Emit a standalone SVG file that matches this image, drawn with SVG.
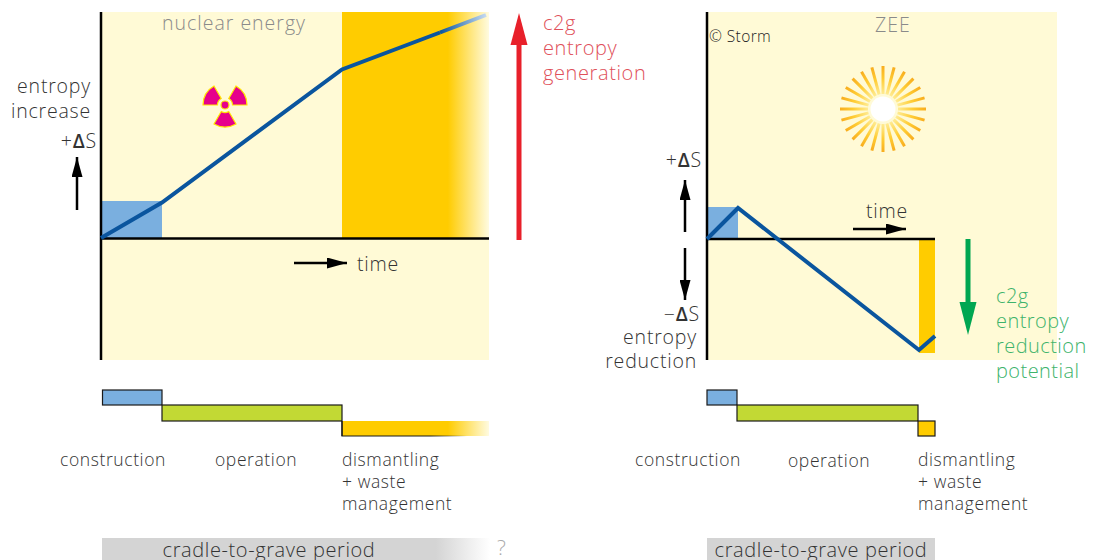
<svg xmlns="http://www.w3.org/2000/svg" width="1093" height="560" viewBox="0 0 1093 560">
<style>
text{font-family:"Open Sans",Lato,"Liberation Sans",sans-serif;font-weight:300;fill:#333}
.lbl{font-size:17.5px;letter-spacing:0.6px}
.ax{font-size:19.5px;letter-spacing:0.8px}
.ttl{font-size:19.5px;letter-spacing:1px;fill:#8a8a8a}
.red{font-size:20px;letter-spacing:0.6px;fill:#e0505a}
.grn{font-size:20px;letter-spacing:0.45px;fill:#3db36b}
.c2g{font-size:20px;letter-spacing:0.6px}
.d{font-weight:600}
.axis{stroke:#000;stroke-width:2.5;fill:none}
.curve{stroke:#0a559e;stroke-width:4;fill:none;stroke-linejoin:miter}
.bar{stroke:#1a1a1a;stroke-width:1.2}
.arr{stroke:#000;stroke-width:2.5;fill:none}
</style>
<defs>
<linearGradient id="orFade" gradientUnits="userSpaceOnUse" x1="342" y1="0" x2="489" y2="0">
<stop offset="0" stop-color="#ffcc00"/><stop offset="0.72" stop-color="#ffcc00"/><stop offset="1" stop-color="#fffbe0"/>
</linearGradient>
<linearGradient id="grayFade" gradientUnits="userSpaceOnUse" x1="102" y1="0" x2="490" y2="0">
<stop offset="0" stop-color="#d4d4d4"/><stop offset="0.86" stop-color="#d4d4d4"/><stop offset="1" stop-color="#ffffff"/>
</linearGradient>
<linearGradient id="lineFade" gradientUnits="userSpaceOnUse" x1="440" y1="0" x2="487" y2="0">
<stop offset="0" stop-color="#0a559e"/><stop offset="1" stop-color="#c8dcf2"/>
</linearGradient>
<linearGradient id="strokeFade" gradientUnits="userSpaceOnUse" x1="342" y1="0" x2="489" y2="0">
<stop offset="0" stop-color="#1a1a1a"/><stop offset="0.6" stop-color="#1a1a1a"/><stop offset="0.85" stop-color="#1a1a1a" stop-opacity="0"/>
</linearGradient>
<radialGradient id="sunRay" gradientUnits="userSpaceOnUse" cx="883" cy="109" r="43">
<stop offset="0.3" stop-color="#fff0a0"/><stop offset="0.7" stop-color="#ffcc33"/><stop offset="1" stop-color="#f8ad1e"/>
</radialGradient>
<marker id="ah" viewBox="0 0 20 11" refX="20" refY="5.5" markerWidth="8" markerHeight="4.4" orient="auto" markerUnits="strokeWidth">
<path d="M0,0 L20,5.5 L0,11 Z" fill="#000"/>
</marker>
</defs>

<!-- LEFT CHART: nuclear energy -->
<g id="left-chart">
<rect x="101" y="12" width="388" height="348" fill="#fffad6"/>
<rect x="342" y="12" width="147" height="226" fill="url(#orFade)"/>
<rect x="101" y="201" width="61" height="37" fill="#7aafdf"/>
<text class="ttl" x="234" y="30" text-anchor="middle">nuclear energy</text>
<g id="radiation" fill="#e6008c" stroke="#ffe600" stroke-width="1.2">
<path id="blade" d="M228.75,111.5 L236,124.05 A22,22 0 0 1 214,124.05 L221.25,111.5 A7.5,7.5 0 0 0 228.75,111.5 Z"/>
<use href="#blade" transform="rotate(120 225 105)"/>
<use href="#blade" transform="rotate(240 225 105)"/>
<circle cx="225" cy="105" r="4"/>
</g>
</g>

<!-- RIGHT CHART: ZEE -->
<g id="right-chart">
<rect x="707" y="12" width="350" height="348" fill="#fffad6"/>
<rect x="919" y="239" width="16" height="114" fill="#ffcc00"/>
<rect x="707" y="207" width="31" height="32" fill="#7aafdf"/>
<text class="ttl" x="893" y="32" text-anchor="middle">ZEE</text>
<text x="709" y="42" style="font-size:15.5px;letter-spacing:0.4px;fill:#222">© Storm</text>
<g id="sun" stroke="url(#sunRay)" stroke-width="3">
<line x1="883" y1="94" x2="883" y2="66"/>
<line x1="883" y1="94" x2="883" y2="66" transform="rotate(15 883 109)"/>
<line x1="883" y1="94" x2="883" y2="66" transform="rotate(30 883 109)"/>
<line x1="883" y1="94" x2="883" y2="66" transform="rotate(45 883 109)"/>
<line x1="883" y1="94" x2="883" y2="66" transform="rotate(60 883 109)"/>
<line x1="883" y1="94" x2="883" y2="66" transform="rotate(75 883 109)"/>
<line x1="883" y1="94" x2="883" y2="66" transform="rotate(90 883 109)"/>
<line x1="883" y1="94" x2="883" y2="66" transform="rotate(105 883 109)"/>
<line x1="883" y1="94" x2="883" y2="66" transform="rotate(120 883 109)"/>
<line x1="883" y1="94" x2="883" y2="66" transform="rotate(135 883 109)"/>
<line x1="883" y1="94" x2="883" y2="66" transform="rotate(150 883 109)"/>
<line x1="883" y1="94" x2="883" y2="66" transform="rotate(165 883 109)"/>
<line x1="883" y1="94" x2="883" y2="66" transform="rotate(180 883 109)"/>
<line x1="883" y1="94" x2="883" y2="66" transform="rotate(195 883 109)"/>
<line x1="883" y1="94" x2="883" y2="66" transform="rotate(210 883 109)"/>
<line x1="883" y1="94" x2="883" y2="66" transform="rotate(225 883 109)"/>
<line x1="883" y1="94" x2="883" y2="66" transform="rotate(240 883 109)"/>
<line x1="883" y1="94" x2="883" y2="66" transform="rotate(255 883 109)"/>
<line x1="883" y1="94" x2="883" y2="66" transform="rotate(270 883 109)"/>
<line x1="883" y1="94" x2="883" y2="66" transform="rotate(285 883 109)"/>
<line x1="883" y1="94" x2="883" y2="66" transform="rotate(300 883 109)"/>
<line x1="883" y1="94" x2="883" y2="66" transform="rotate(315 883 109)"/>
<line x1="883" y1="94" x2="883" y2="66" transform="rotate(330 883 109)"/>
<line x1="883" y1="94" x2="883" y2="66" transform="rotate(345 883 109)"/>
<circle cx="883" cy="109" r="12.5" fill="#ffffff" stroke="none"/>
</g>
</g>

<!-- connectors: axes, curves, arrows -->
<g id="connectors">
<line class="axis" x1="101" y1="12" x2="101" y2="360"/>
<line class="axis" x1="101" y1="238.5" x2="489" y2="238.5"/>
<polyline class="curve" points="101,238 162,202.5 342,69.5 440,32.5"/>
<line x1="440" y1="32.5" x2="486" y2="15" stroke="url(#lineFade)" stroke-width="4"/>
<line class="arr" x1="77" y1="210" x2="77" y2="157" marker-end="url(#ah)"/>
<line class="arr" x1="294" y1="263" x2="347" y2="263" marker-end="url(#ah)"/>
<line x1="519" y1="240" x2="519" y2="40" stroke="#e8202a" stroke-width="5"/>
<path d="M510.5,45 L519,13 L527.5,45 Z" fill="#e8202a"/>

<line class="axis" x1="707" y1="12" x2="707" y2="360"/>
<line class="axis" x1="707" y1="239" x2="935" y2="239"/>
<polyline class="curve" points="707,239 738,208 919,350 935,336"/>
<line class="arr" x1="685" y1="232" x2="685" y2="180" marker-end="url(#ah)"/>
<line class="arr" x1="685" y1="248" x2="685" y2="300" marker-end="url(#ah)"/>
<line class="arr" x1="853" y1="229" x2="906" y2="229" marker-end="url(#ah)"/>
<line x1="968" y1="239" x2="968" y2="305" stroke="#00a651" stroke-width="5"/>
<path d="M959.5,302 L968,335 L976.5,302 Z" fill="#00a651"/>
</g>

<!-- axis labels -->
<g id="left-labels">
<text class="ax" x="91" y="93" text-anchor="end">entropy</text>
<text class="ax" x="91" y="118" text-anchor="end">increase</text>
<text class="ax" x="97" y="148" text-anchor="end">+<tspan class="d">Δ</tspan>S</text>
<text class="ax" x="357" y="271">time</text>
<text class="red" x="543" y="30">c2g</text>
<text class="red" x="543" y="55">entropy</text>
<text class="red" x="543" y="80">generation</text>
</g>
<g id="right-labels">
<text class="ax" x="702" y="167" text-anchor="end">+<tspan class="d">Δ</tspan>S</text>
<text class="ax" x="700" y="321" text-anchor="end">−<tspan class="d">Δ</tspan>S</text>
<text class="ax" x="697" y="344" text-anchor="end">entropy</text>
<text class="ax" x="697" y="368" text-anchor="end">reduction</text>
<text class="ax" x="866" y="218">time</text>
<text class="grn" x="996" y="303">c2g</text>
<text class="grn" x="996" y="328">entropy</text>
<text class="grn" x="996" y="353">reduction</text>
<text class="grn" x="996" y="378">potential</text>
</g>

<!-- phase bars left -->
<g id="left-phases">
<rect class="bar" x="102.5" y="390" width="59.5" height="15" fill="#7aafdf"/>
<rect class="bar" x="162" y="405" width="180" height="16" fill="#c2d934"/>
<rect x="342" y="421" width="147" height="15" fill="url(#orFade)"/>
<path d="M342,421 V436 H489" fill="none" stroke="url(#strokeFade)" stroke-width="1.2"/>
<line x1="342" y1="421" x2="342" y2="436" stroke="#1a1a1a" stroke-width="1.2"/>
<text class="lbl" x="60" y="466">construction</text>
<text class="lbl" x="215" y="466">operation</text>
<text class="lbl" x="342" y="466">dismantling</text>
<text class="lbl" x="342" y="488">+ waste</text>
<text class="lbl" x="342" y="510">management</text>
<rect x="102" y="538" width="388" height="22" fill="url(#grayFade)"/>
<text class="c2g" x="269" y="557" text-anchor="middle">cradle-to-grave period</text>
<text x="497" y="555" style="font-size:21px;fill:#aaa">?</text>
</g>

<!-- phase bars right -->
<g id="right-phases">
<rect class="bar" x="707" y="390" width="30" height="15" fill="#7aafdf"/>
<rect class="bar" x="737" y="405" width="181" height="16" fill="#c2d934"/>
<rect class="bar" x="918" y="421" width="17" height="15" fill="#ffcc00"/>
<text class="lbl" x="635" y="466">construction</text>
<text class="lbl" x="788" y="467">operation</text>
<text class="lbl" x="918" y="466">dismantling</text>
<text class="lbl" x="918" y="488">+ waste</text>
<text class="lbl" x="918" y="510">management</text>
<rect x="707" y="538" width="228" height="22" fill="#d4d4d4"/>
<text class="c2g" x="821" y="557" text-anchor="middle">cradle-to-grave period</text>
</g>
</svg>
